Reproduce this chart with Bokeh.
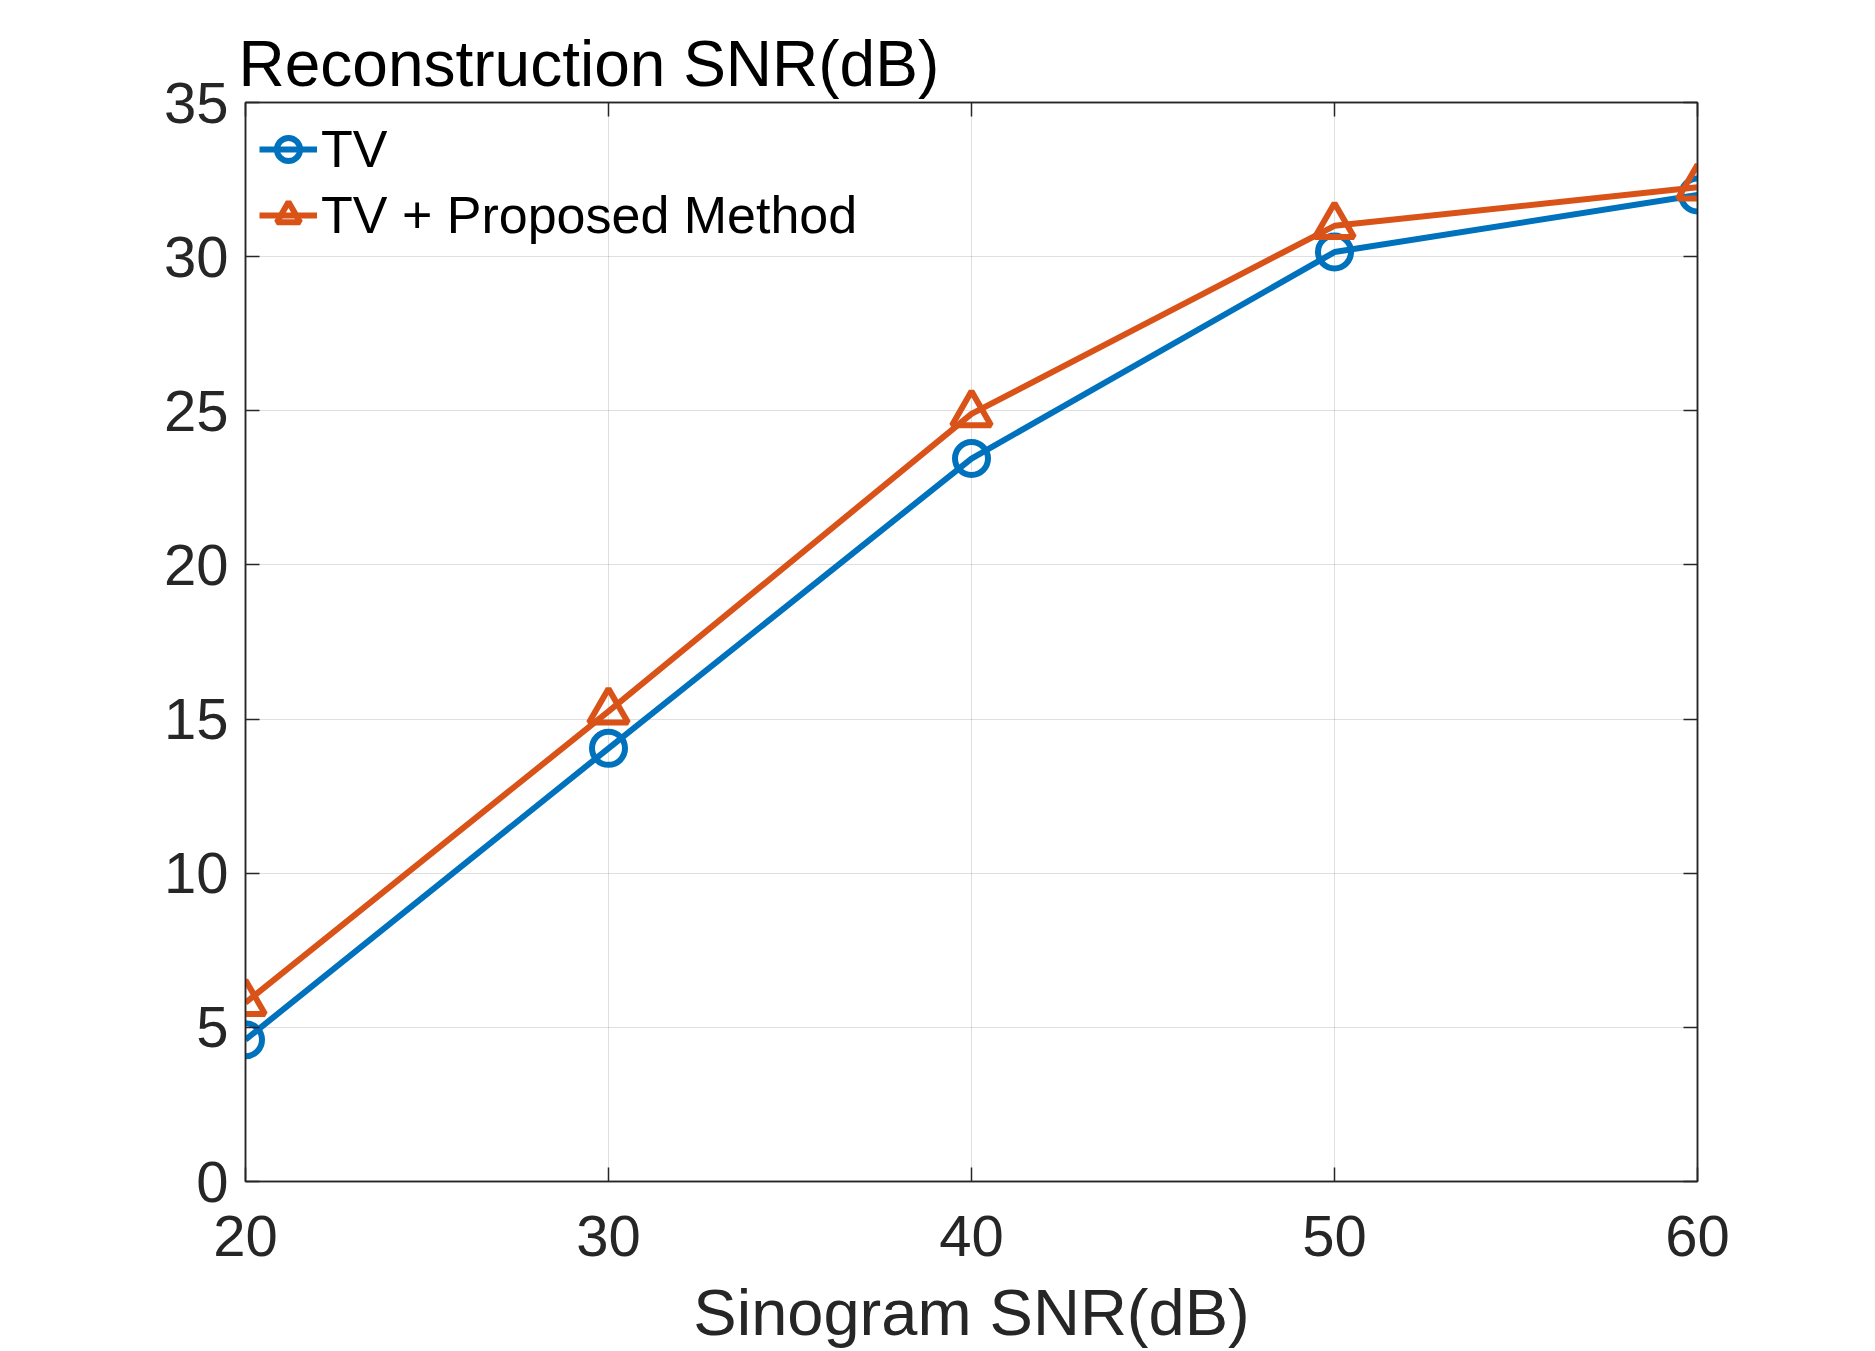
from bokeh.plotting import figure
from bokeh.models import FixedTicker, LinearAxis, Range1d
from bokeh.embed import file_html
from bokeh.resources import INLINE

# Data
sinogram_snr = [20, 30, 40, 50, 60]
tv = [4.6, 14.05, 23.45, 30.15, 32.0]
tv_proposed = [5.8, 15.25, 24.9, 31.0, 32.25]
x_ticks = [20, 30, 40, 50, 60]
y_ticks = [0, 5, 10, 15, 20, 25, 30, 35]

FONT = "Liberation Sans"
BLUE = "#0072BD"
ORANGE = "#D95319"
AX = "#262626"

p = figure(width=1859, height=1351, output_backend="svg", toolbar_location=None,
           x_range=Range1d(20, 60), y_range=Range1d(0, 35),
           min_border_left=245, min_border_right=162, min_border_top=102, min_border_bottom=169)

p.title.text = "Reconstruction SNR(dB)"
p.title.text_font = FONT
p.title.text_font_size = "64px"
p.title.text_font_style = "normal"
p.title.text_color = "black"
p.title.align = "left"
p.title.offset = -7
p.title.standoff = 6

p.outline_line_color = AX
p.outline_line_width = 1.5
p.outline_line_alpha = 1.0

for ax in (p.xaxis[0], p.yaxis[0]):
    ax.major_label_text_font = FONT
    ax.major_label_text_font_size = "58px"
    ax.major_label_text_color = AX
    ax.axis_line_color = AX
    ax.axis_line_width = 1.5
    ax.major_tick_in = 14
    ax.major_tick_out = 0
    ax.major_tick_line_color = AX
    ax.major_tick_line_width = 1.5
    ax.minor_tick_line_color = None

p.xaxis[0].ticker = FixedTicker(ticks=x_ticks)
p.yaxis[0].ticker = FixedTicker(ticks=y_ticks)
p.xaxis[0].major_label_standoff = 34
p.yaxis[0].major_label_standoff = 17
p.xaxis[0].axis_label = "Sinogram SNR(dB)"
p.xaxis[0].axis_label_text_font = FONT
p.xaxis[0].axis_label_text_font_size = "65px"
p.xaxis[0].axis_label_text_font_style = "normal"
p.xaxis[0].axis_label_text_color = AX
p.xaxis[0].axis_label_standoff = 17

# box ticks on top and right (no labels)
for side, ticks in (("above", x_ticks), ("right", y_ticks)):
    a = LinearAxis(ticker=FixedTicker(ticks=ticks), major_label_text_font_size="1px",
                   major_label_text_color=None, major_label_standoff=0,
                   major_tick_in=14, major_tick_out=0,
                   major_tick_line_color=AX, major_tick_line_width=1.5,
                   minor_tick_line_color=None, axis_line_color=AX, axis_line_width=1.5)
    p.add_layout(a, side)

p.xgrid.ticker = FixedTicker(ticks=x_ticks)
p.ygrid.ticker = FixedTicker(ticks=y_ticks)
for g in (p.xgrid[0], p.ygrid[0]):
    g.grid_line_color = AX
    g.grid_line_alpha = 0.15
    g.grid_line_width = 1

p.line(sinogram_snr, tv, line_color=BLUE, line_width=6, legend_label="TV")
p.scatter(sinogram_snr, tv, marker="circle", size=33, fill_color=None,
          line_color=BLUE, line_width=6, legend_label="TV")
p.line(sinogram_snr, tv_proposed, line_color=ORANGE, line_width=6, legend_label="TV + Proposed Method")
p.scatter(sinogram_snr, tv_proposed, marker="triangle", size=39, fill_color=None,
          line_color=ORANGE, line_width=6, legend_label="TV + Proposed Method")

leg = p.legend[0]
leg.location = "top_left"
leg.margin = 0
leg.padding = 14
leg.border_line_alpha = 0
leg.background_fill_alpha = 0
leg.label_text_font = FONT
leg.label_text_font_size = "52px"
leg.label_text_color = "black"
leg.glyph_width = 58
leg.glyph_height = 66
leg.label_height = 66
leg.spacing = 0
leg.label_standoff = 4

open("out.html", "w").write(file_html(p, INLINE))
